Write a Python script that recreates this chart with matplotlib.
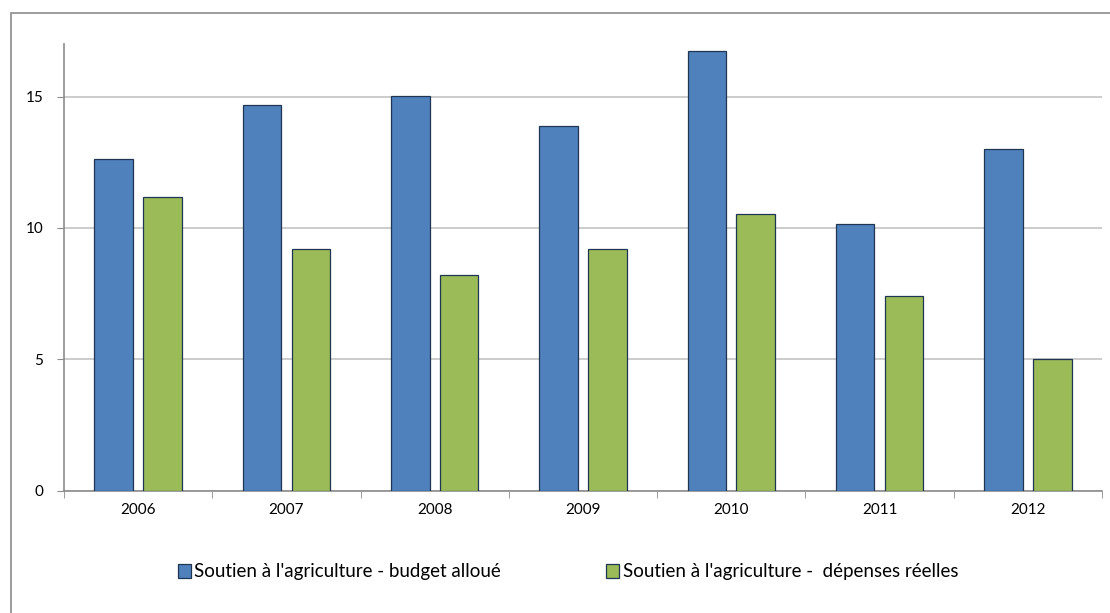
import matplotlib
matplotlib.use("Agg")
import matplotlib.pyplot as plt
import numpy as np
from matplotlib.patches import Rectangle

# données
annees = ["2006", "2007", "2008", "2009", "2010", "2011", "2012"]
budget_alloue = [12.64, 14.67, 15.03, 13.89, 16.75, 10.16, 13.01]
depenses_reelles = [11.17, 9.21, 8.22, 9.21, 10.53, 7.41, 5.02]
labels = ["Soutien à l'agriculture - budget alloué",
          "Soutien à l'agriculture -  dépenses réelles"]

plt.rcParams['font.family'] = ['Lato', 'DejaVu Sans']

fig = plt.figure(figsize=(11.1, 6.13), dpi=100)
ax = fig.add_axes([64/1110, 1-490.7/613, (1102-64)/1110, (490.7-44)/613])

# cadre gris autour du graphique
fig.patches.append(Rectangle((11/1110, -0.02), 1.02, 1-13/613+0.02,
                             transform=fig.transFigure, fill=False,
                             edgecolor='#8c8c8c', linewidth=1.2))

x = np.arange(len(annees))
w = 0.26
ax.bar(x-0.165, budget_alloue, w, color='#4f81bd', edgecolor='#1f3552',
       linewidth=0.9, label=labels[0], zorder=3)
ax.bar(x+0.165, depenses_reelles, w, color='#9bbb59', edgecolor='#1f3552',
       linewidth=0.9, label=labels[1], zorder=3)

ax.set_xlim(-0.5, 6.5)
ax.set_ylim(0, 17)
ax.set_yticks([0, 5, 10, 15])
ax.yaxis.grid(True, color='#c4c4c4', linewidth=1.2, zorder=0)
ax.set_xticks(x)
ax.set_xticklabels(annees)
ax.set_xticks(np.arange(-0.5, 7, 1), minor=True)
ax.tick_params(axis='x', which='major', length=0, pad=9, labelsize=11)
ax.tick_params(axis='x', which='minor', length=5, color='#8c8c8c', direction='out')
ax.tick_params(axis='y', length=5, color='#8c8c8c', pad=10, labelsize=11)

for s in ['top', 'right']:
    ax.spines[s].set_visible(False)
ax.spines['left'].set_color('#8c8c8c')
ax.spines['bottom'].set_color('#8c8c8c')
ax.spines['left'].set_linewidth(1.2)
ax.spines['bottom'].set_linewidth(1.2)

fig.legend(loc='center', bbox_to_anchor=(568/1110, 1-572/613), ncol=2,
           frameon=False, fontsize=13.5, handlelength=0.7, handleheight=0.7,
           handletextpad=0.2, columnspacing=5.6)

fig.savefig("out.png", dpi=100)
